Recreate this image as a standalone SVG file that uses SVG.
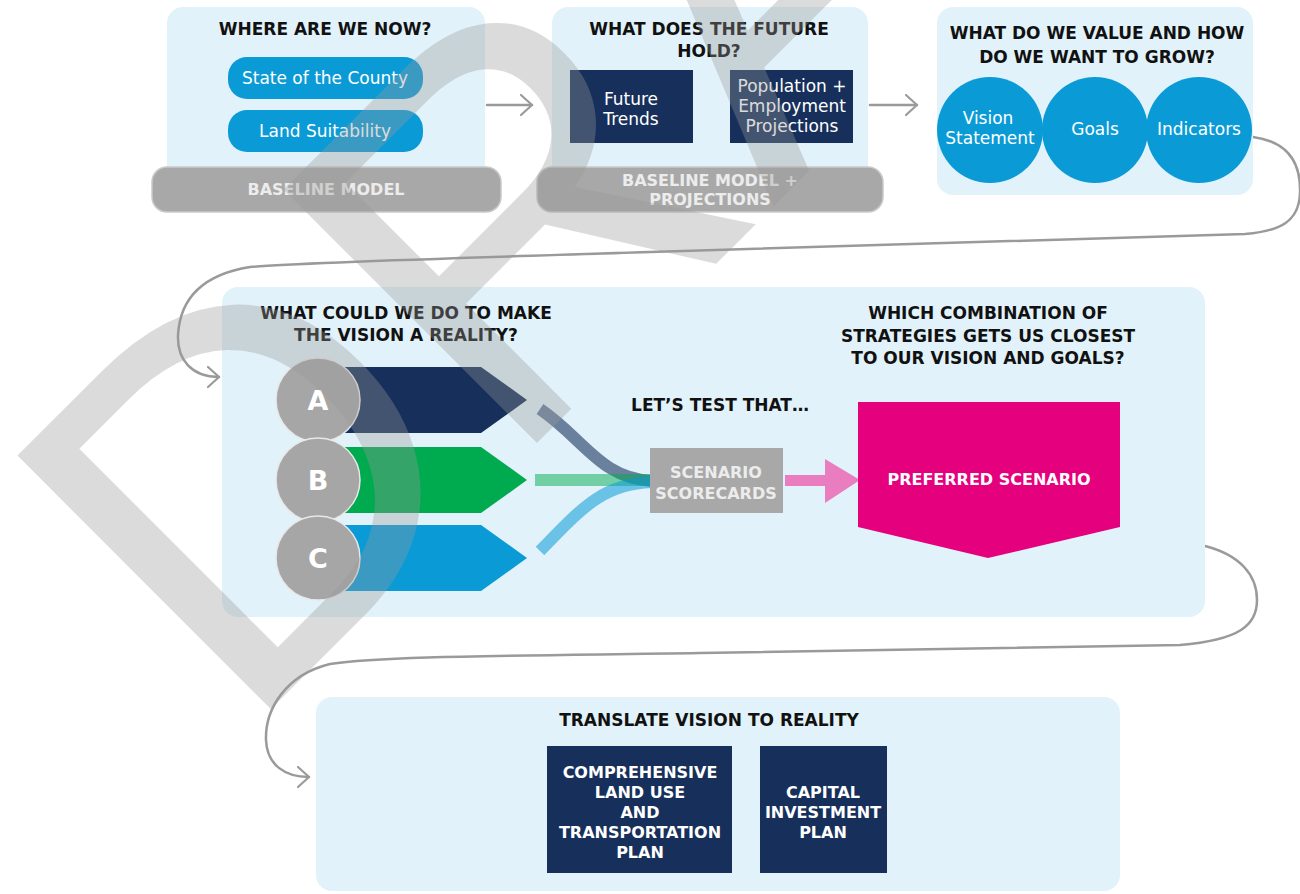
<svg xmlns="http://www.w3.org/2000/svg" width="1300" height="894" viewBox="0 0 1300 894">
<style>
.panel{fill:#e2f2fa}
.pill{fill:#a8a8a8;stroke:#c9c9c9;stroke-width:1.5}
.blue{fill:#0a9bd7}
.navy{fill:#17305b}
.ttl{font-family:"DejaVu Sans",sans-serif;font-weight:bold;font-size:17px;fill:#111;text-anchor:middle}
.pt{font-family:"DejaVu Sans",sans-serif;font-weight:bold;font-size:16px;fill:#ececec;text-anchor:middle}
.wt{font-family:"DejaVu Sans",sans-serif;font-size:17px;fill:#fff;text-anchor:middle}
.wb{font-family:"DejaVu Sans",sans-serif;font-weight:bold;font-size:16px;fill:#fff;text-anchor:middle}
.lt{font-family:"DejaVu Sans",sans-serif;font-weight:bold;font-size:27px;fill:#fff;text-anchor:middle}
.conn{fill:none;stroke:#9a9a9a;stroke-width:2.5;stroke-linecap:round}
.gc{fill:#a6a6a6;stroke:#e8e8e8;stroke-width:1.5}
</style>
<defs>
<marker id="ah" markerUnits="userSpaceOnUse" markerWidth="16" markerHeight="26" refX="12" refY="11" orient="auto" viewBox="0 0 16 22">
<path d="M1,1 L12,11 L1,21" fill="none" stroke="#9a9a9a" stroke-width="2.2" stroke-linecap="round" stroke-linejoin="round"/>
</marker>
</defs>

<g id="connectors">
<path class="conn" d="M487,105 L532,105" marker-end="url(#ah)"/>
<path class="conn" d="M870,105 L917,105" marker-end="url(#ah)"/>
<path class="conn" d="M1253,137 C1290,142 1301,165 1300,193 C1299,222 1280,231 1245,234 L650,252 C500,257 300,262 250,267 C200,275 180,300 178,335 C177,360 192,377 219,377" marker-end="url(#ah)"/>
<path class="conn" d="M1205,546 C1240,555 1257,575 1257,600 C1257,625 1240,640 1180,645 L700,653 C500,656 380,656 330,664 C285,675 265,710 266,740 C267,765 285,777 309,777" marker-end="url(#ah)"/>
</g>

<g id="node-where">
<rect class="panel" x="167" y="7" width="318" height="185" rx="16"/>
<rect class="pill" x="152" y="167" width="349" height="45" rx="15"/>
<text class="ttl" x="325" y="35">WHERE ARE WE NOW?</text>
<rect class="blue" x="228" y="57" width="195" height="42" rx="19"/>
<text class="wt" x="325" y="84">State of the County</text>
<rect class="blue" x="228" y="110" width="195" height="42" rx="19"/>
<text class="wt" x="325" y="137">Land Suitability</text>
<text class="pt" x="326" y="195">BASELINE MODEL</text>
</g>

<g id="node-future">
<rect class="panel" x="552" y="7" width="316" height="185" rx="16"/>
<rect class="pill" x="537" y="167" width="346" height="45" rx="15"/>
<text class="ttl" x="709" y="35">WHAT DOES THE FUTURE</text>
<text class="ttl" x="709" y="57">HOLD?</text>
<rect class="navy" x="570" y="70" width="123" height="73"/>
<text class="wt" x="631" y="105">Future</text>
<text class="wt" x="631" y="125">Trends</text>
<rect class="navy" x="730" y="70" width="123" height="73"/>
<text class="wt" x="792" y="92">Population +</text>
<text class="wt" x="792" y="112">Employment</text>
<text class="wt" x="792" y="132">Projections</text>
<text class="pt" x="710" y="186">BASELINE MODEL +</text>
<text class="pt" x="710" y="205">PROJECTIONS</text>
</g>

<g id="node-value">
<rect class="panel" x="937" y="7" width="316" height="188" rx="16"/>
<text class="ttl" x="1097" y="39">WHAT DO WE VALUE AND HOW</text>
<text class="ttl" x="1097" y="63">DO WE WANT TO GROW?</text>
<circle class="blue" cx="990" cy="130" r="53"/>
<circle class="blue" cx="1095" cy="130" r="53"/>
<circle class="blue" cx="1199" cy="130" r="53"/>
<text class="wt" x="988" y="124">Vision</text>
<text class="wt" x="990" y="144">Statement</text>
<text class="wt" x="1095" y="135">Goals</text>
<text class="wt" x="1199" y="135">Indicators</text>
</g>

<g id="node-strategies">
<rect class="panel" x="222" y="287" width="983" height="330" rx="16"/>
<text class="ttl" x="406" y="319">WHAT COULD WE DO TO MAKE</text>
<text class="ttl" x="406" y="341">THE VISION A REALITY?</text>
<text class="ttl" x="988" y="319">WHICH COMBINATION OF</text>
<text class="ttl" x="988" y="342">STRATEGIES GETS US CLOSEST</text>
<text class="ttl" x="988" y="364">TO OUR VISION AND GOALS?</text>
<text class="ttl" x="720" y="411">LET’S TEST THAT…</text>
<polygon class="navy" points="338,367 481,367 527,400 481,433 338,433"/>
<polygon fill="#00aa4f" points="338,447 481,447 527,480 481,513 338,513"/>
<polygon fill="#0a9bd7" points="338,525 481,525 527,558 481,591 338,591"/>
<circle class="gc" cx="318" cy="400" r="42"/>
<circle class="gc" cx="318" cy="480" r="42"/>
<circle class="gc" cx="318" cy="558" r="42"/>
<text class="lt" x="318" y="410">A</text>
<text class="lt" x="318" y="490">B</text>
<text class="lt" x="318" y="568">C</text>
<g id="ribbons" fill="none" stroke-width="12">
<path d="M540,409 C585,440 600,478 652,481" stroke="#1a3560" stroke-opacity="0.6"/>
<path d="M535,480 L652,480" stroke="#00aa4f" stroke-opacity="0.5"/>
<path d="M540,551 C582,508 602,484 652,482" stroke="#0a9bd7" stroke-opacity="0.55"/>
</g>
</g>

<g id="node-scorecards">
<rect fill="#a8a8a8" x="650" y="448" width="133" height="65"/>
<text class="pt" x="716" y="478">SCENARIO</text>
<text class="pt" x="716" y="499">SCORECARDS</text>
</g>

<g id="pink-arrow">
<rect fill="#ea7cc0" x="785" y="475" width="41" height="11"/>
<polygon fill="#ea7cc0" points="825,459 860,480 825,503"/>
</g>

<g id="node-preferred">
<polygon fill="#e5007e" points="858,402 1120,402 1120,527 988,558 858,527"/>
<text class="wb" x="989" y="485">PREFERRED SCENARIO</text>
</g>

<g id="node-translate">
<rect class="panel" x="316" y="697" width="804" height="194" rx="16"/>
<text class="ttl" x="709" y="726">TRANSLATE VISION TO REALITY</text>
<rect class="navy" x="547" y="746" width="185" height="127"/>
<text class="wb" x="640" y="778">COMPREHENSIVE</text>
<text class="wb" x="640" y="798">LAND USE</text>
<text class="wb" x="640" y="818">AND</text>
<text class="wb" x="640" y="838">TRANSPORTATION</text>
<text class="wb" x="640" y="858">PLAN</text>
<rect class="navy" x="760" y="746" width="127" height="127"/>
<text class="wb" x="823" y="798">CAPITAL</text>
<text class="wb" x="823" y="818">INVESTMENT</text>
<text class="wb" x="823" y="838">PLAN</text>
</g>

<g id="watermark" opacity="0.34">
<text transform="translate(240.7,739.3) rotate(-45)" font-family="Liberation Sans, Arial, sans-serif" font-size="521" fill="#999999">DRAFT</text>
</g>
</svg>
